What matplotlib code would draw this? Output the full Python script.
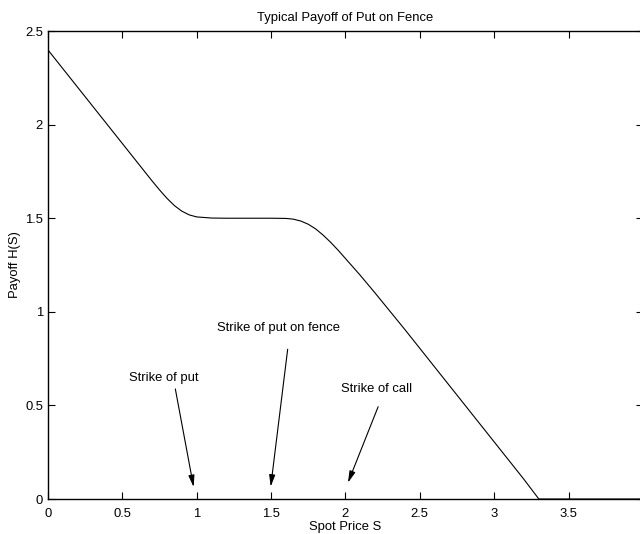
import matplotlib
matplotlib.use("Agg")
import matplotlib.pyplot as plt

plt.rcParams['font.family'] = ['Liberation Sans', 'DejaVu Sans']

# payoff curve
spot = [0.0, 0.2, 0.4, 0.6, 0.7, 0.75, 0.8, 0.85, 0.9, 0.95, 1.0, 1.1, 1.2,
        1.3, 1.4, 1.5, 1.6, 1.65, 1.7, 1.75, 1.8, 1.85, 1.9, 1.95, 2.0, 2.1,
        2.2, 2.4, 2.6, 2.8, 3.0, 3.2, 3.3, 3.4, 3.6, 3.8, 4.0]
payoff = [2.4, 2.2, 2.0, 1.8, 1.7, 1.652, 1.607, 1.568, 1.538, 1.518, 1.507,
          1.501, 1.5, 1.5, 1.5, 1.5, 1.499, 1.495, 1.485, 1.468, 1.443, 1.41,
          1.372, 1.33, 1.285, 1.195, 1.10, 0.905, 0.705, 0.505, 0.305, 0.105,
          0.0, 0.0, 0.0, 0.0, 0.0]

# annotations: label, text position, arrow tail, arrow head
notes = ["Strike of put", "Strike of put on fence", "Strike of call"]
text_xy = [(0.78, 0.646), (1.55, 0.913), (2.21, 0.587)]
tail_xy = [(0.857, 0.588), (1.612, 0.80), (2.22, 0.493)]
head_xy = [(0.98, 0.064), (1.498, 0.066), (2.017, 0.087)]

fs = 9.4

fig = plt.figure(figsize=(6.4, 5.34), dpi=100)
ax = fig.add_axes([0.0747, 0.0655, 0.930, 0.8764])

ax.plot(spot, payoff, color='k', lw=0.8)

for label, t, a, h in zip(notes, text_xy, tail_xy, head_xy):
    ax.text(t[0], t[1], label, ha='center', va='center', fontsize=fs)
    ax.annotate("", xy=h, xytext=a,
                arrowprops=dict(arrowstyle="-|>,head_length=0.7,head_width=0.18",
                                color='k', lw=0.8, shrinkA=0, shrinkB=0))

ax.set_xlim(0, 4)
ax.set_ylim(0, 2.5)
ax.set_xticks([0, 0.5, 1, 1.5, 2, 2.5, 3, 3.5, 4])
ax.set_xticklabels(['0', '0.5', '1', '1.5', '2', '2.5', '3', '3.5', '4'])
ax.set_yticks([0, 0.5, 1, 1.5, 2, 2.5])
ax.set_yticklabels(['0', '0.5', '1', '1.5', '2', '2.5'])
ax.tick_params(direction='in', top=True, right=True, length=5, width=0.8,
               labelsize=fs)
ax.tick_params(axis='x', pad=6.5)
ax.tick_params(axis='y', pad=3.5)
for s in ax.spines.values():
    s.set_linewidth(1.0)

ax.set_title("Typical Payoff of Put on Fence", fontsize=fs, pad=7)
ax.set_xlabel("Spot Price S", fontsize=fs, labelpad=1)
ax.set_ylabel("Payoff H(S)", fontsize=fs, labelpad=3)

fig.savefig("out.png", dpi=100)
